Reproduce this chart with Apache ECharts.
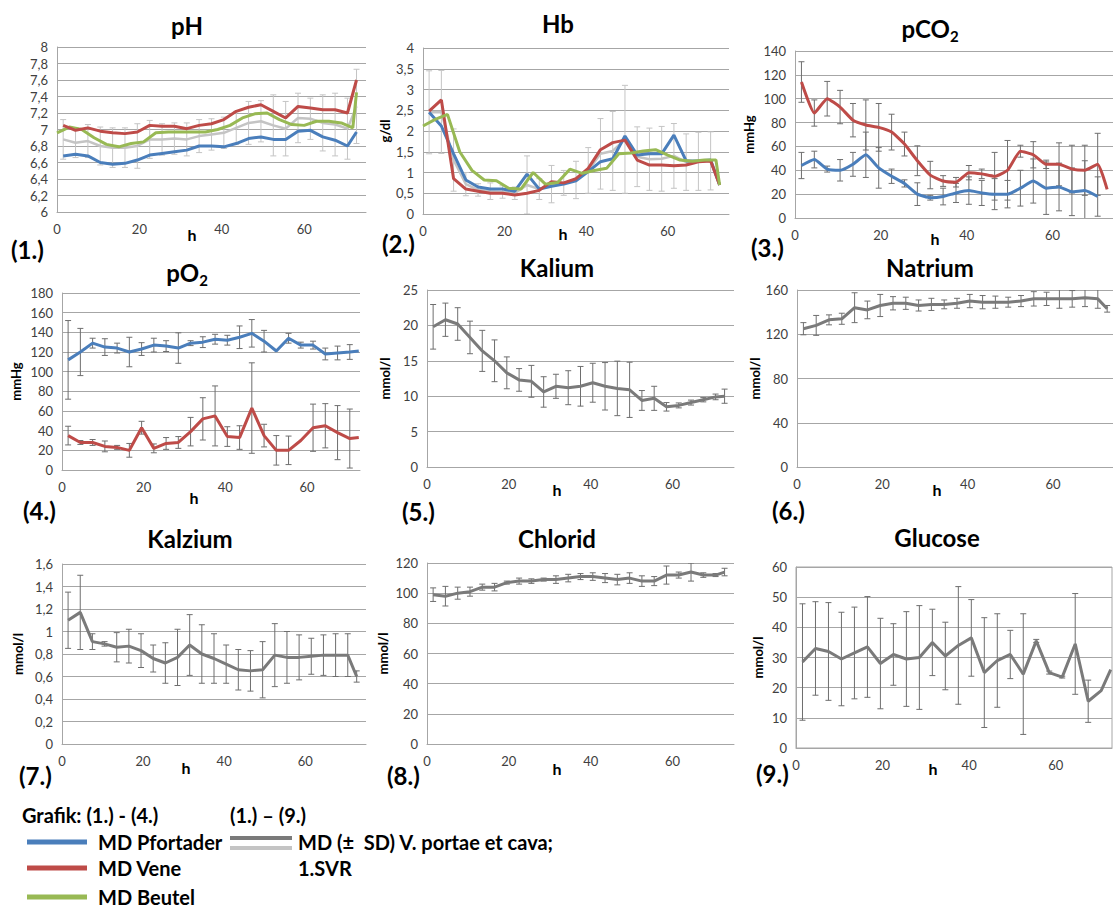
<!DOCTYPE html>
<html>
<head>
<meta charset="utf-8">
<script src="https://cdn.jsdelivr.net/npm/echarts@6/dist/echarts.min.js"></script>
<style>
  html, body { margin: 0; padding: 0; background: #fff; }
  #chart { width: 1113px; height: 909px; }
</style>
</head>
<body>
<div id="chart"></div>
<script>
// Messzeitpunkte (h)
const hours = [1.5, 4.5, 7.5, 10.5, 13.5, 16.5, 19.5, 22.5, 25.5, 28.5, 31.5, 34.5, 37.5, 40.5, 43.5, 46.5, 49.5, 52.5, 55.5, 58.5, 61.5, 64.5, 67.5, 70.5, 72.7];
const beutelHours = [0, 3, 6, 9, 12, 15, 18, 21, 24, 27, 30, 33, 36, 39, 42, 45, 48, 51, 54, 57, 60, 63, 66, 69, 71.8, 72.7];
const xTicks = [0, 20, 40, 60];

// (1.) pH
const phPfortader = [6.68, 6.70, 6.68, 6.60, 6.58, 6.59, 6.63, 6.69, 6.71, 6.73, 6.75, 6.80, 6.80, 6.79, 6.83, 6.89, 6.91, 6.88, 6.88, 6.98, 6.99, 6.91, 6.87, 6.80, 6.97];
const phVene = [7.05, 6.99, 7.02, 6.98, 6.96, 6.95, 6.97, 7.05, 7.04, 7.04, 7.01, 7.05, 7.07, 7.12, 7.22, 7.27, 7.30, 7.22, 7.14, 7.28, 7.26, 7.24, 7.24, 7.20, 7.60];
const phBeutel = [6.96, 7.03, 7.00, 6.90, 6.82, 6.79, 6.83, 6.85, 6.96, 6.97, 6.97, 6.97, 6.97, 7.00, 7.05, 7.14, 7.19, 7.20, 7.12, 7.06, 7.05, 7.10, 7.10, 7.08, 7.02, 7.45];
const phMean = [6.88, 6.84, 6.86, 6.80, 6.78, 6.78, 6.80, 6.88, 6.88, 6.89, 6.88, 6.92, 6.94, 6.96, 7.02, 7.08, 7.10, 7.05, 7.01, 7.14, 7.13, 7.08, 7.06, 7.01, 7.28];
const phSd = [0.24, 0.18, 0.2, 0.23, 0.24, 0.24, 0.27, 0.23, 0.19, 0.19, 0.2, 0.2, 0.19, 0.19, 0.2, 0.26, 0.25, 0.37, 0.33, 0.3, 0.25, 0.34, 0.38, 0.37, 0.45];

// (2.) Hb
const hbPfortader = [2.45, 2.12, 1.45, 0.82, 0.65, 0.60, 0.60, 0.55, 0.96, 0.60, 0.67, 0.72, 0.80, 1.02, 1.26, 1.33, 1.88, 1.42, 1.45, 1.45, 1.90, 1.28, 1.28, 1.30, 0.70];
const hbVene = [2.48, 2.75, 0.85, 0.60, 0.55, 0.50, 0.50, 0.46, 0.50, 0.57, 0.78, 0.75, 0.85, 1.10, 1.55, 1.72, 1.78, 1.30, 1.18, 1.18, 1.16, 1.18, 1.26, 1.28, 0.70];
const hbBeutel = [2.12, 2.28, 2.40, 1.50, 1.05, 0.82, 0.80, 0.62, 0.60, 1.00, 0.72, 0.76, 1.08, 0.98, 1.05, 1.10, 1.45, 1.47, 1.52, 1.55, 1.42, 1.30, 1.27, 1.30, 1.30, 0.70];
const hbMean = [2.45, 2.46, 1.30, 0.72, 0.58, 0.55, 0.53, 0.50, 0.70, 0.60, 0.72, 0.75, 0.82, 1.05, 1.45, 1.52, 1.80, 1.38, 1.32, 1.33, 1.40, 1.25, 1.27, 1.28, 0.70];
const hbSd = [1.0, 1.0, 0.75, 0.28, 0.15, 0.2, 0.15, 0.15, 0.7, 0.25, 0.45, 0.3, 0.45, 0.55, 0.85, 0.95, 1.3, 0.72, 0.75, 0.78, 0.78, 0.68, 0.7, 0.7, null];

// (3.) pCO2
const pco2Pfortader = [44, 49, 41, 40, 45, 53, 42, 35, 29, 20, 17, 18, 21, 23, 21, 20, 20, 25, 31, 25, 26, 22, 23, 18, null];
const pco2PfortaderSd = [11, 7, 2.5, 9, 10, 19, 17, 6, 3, 9.5, 2, 7, 8, 11.5, 10.5, 13, 11.5, 15, 18.5, 22, 20, 20, 25, 16.5, null];
const pco2Vene = [114, 88, 100, 93, 82, 78, 76, 72, 62, 48, 36, 31, 30, 38, 37, 35, 40, 56, 53, 45, 45, 41, 40, 45, 24];
const pco2VeneSd = [17, 11, 14.5, 14, 14, 21, 20, 15, 10, 12.5, 11.5, 4.5, 4, 6, 4, 20, 25, 5, 11, 3.5, 18, 20, 21, 26, null];

// (4.) pO2
const po2Pfortader = [112, 120, 129, 125, 124, 120, 123, 127, 126, 124, 129, 130, 133, 132, 135, 139, 131, 121, 134, 127, 127, 118, 119, 120, 121];
const po2PfortaderSd = [40, 24, 5, 8.5, 5, 15, 6.5, 7, 5.5, 15.5, 2.5, 5.5, 5, 5, 11.5, 14, 11, null, 5, 3, 4, 6, 7, 7.5, null];
const po2Vene = [35, 28, 28, 24, 23, 20, 43, 22, 27, 28, 39, 52, 55, 34, 33, 63, 35, 20, 20, 30, 43, 45, 38, 32, 33];
const po2VeneSd = [9.5, 2, 3, 5.5, 2, 7, 6.5, 4.5, 6, 6, 14.5, 21.5, 30.5, 10, 12, 46, 11.5, 15, 14.5, null, 24, 22.5, 27.5, 30, null];

// (5.) - (9.) MD (± SD) V. portae et cava
const kaliumMean = [19.8, 20.8, 20.2, 18.3, 16.4, 15.0, 13.3, 12.3, 12.1, 10.6, 11.4, 11.2, 11.4, 11.9, 11.4, 11.1, 10.9, 9.4, 9.7, 8.5, 8.7, 9.1, 9.5, 9.9, 10.0];
const kaliumSd = [3.15, 2.35, 2.3, 2.3, 2.9, 2.95, 2.25, 1.6, 2.25, 2.15, 1.7, 2.4, 2.8, 2.75, 3.35, 3.85, 3.9, 1.4, 1.7, 0.6, 0.35, 0.35, 0.3, 0.4, 1.0];
const natriumMean = [125, 128, 133, 134, 144, 142, 146, 148, 148, 146, 147, 147, 148, 150, 149, 149, 149, 150, 152, 152, 152, 152, 153, 152, 143];
const natriumSd = [5.5, 9, 4.5, 5, 13.5, 8, 10, 6, 5.5, 5, 5.5, 4, 4.5, 6, 6, 5.5, 4.5, 5, 6.5, 6, 8.5, 7.5, 8, 8.5, 3];
const kalziumMean = [1.10, 1.17, 0.91, 0.89, 0.86, 0.87, 0.83, 0.76, 0.72, 0.77, 0.88, 0.80, 0.76, 0.71, 0.66, 0.65, 0.66, 0.79, 0.77, 0.77, 0.78, 0.79, 0.79, 0.79, 0.60];
const kalziumSd = [0.25, 0.33, 0.07, 0.02, 0.13, 0.15, 0.15, 0.12, 0.18, 0.25, 0.27, 0.26, 0.22, 0.17, 0.18, 0.18, 0.25, 0.28, 0.23, 0.2, 0.16, 0.18, 0.19, 0.19, 0.05];
const chloridMean = [99, 98, 100, 101, 104, 104, 107, 108, 108, 109, 109, 110, 111, 111, 110, 109, 110, 108, 108, 112, 112, 114, 112, 112, 114];
const chloridSd = [4.5, 6.5, 4, 3, 2, 2.5, 1, 2, 1.5, 1, 2.5, 2.5, 2, 2.5, 3, 3.5, 3.5, 3.5, 3, 6, 2, 6, 1.5, 1, 2.5];
const glucoseMean = [28.5, 33, 32, 29.5, 31.5, 33.5, 28, 31, 29.5, 30, 35, 30.5, 34, 36.5, 25, 29, 31, 24.5, 35.5, 25, 23.5, 34.5, 15.5, 19, 26];
const glucoseSd = [19.3, 15.5, 16.2, 15.5, 15.2, 16.7, 15, 10.2, 15.7, 17.2, 11, 11.2, 19.5, 12.7, 18.2, 15.5, 8, 20, 0.5, 0.5, 0.3, 16.7, 7, null, null];

const blue = '#4a7ebb', red = '#be4b48', green = '#98b954';
const darkGray = '#7a7a7a', lightGray = '#c4c4c4', gridGray = '#a6a6a6', barGray = '#6e6e6e';
const font = 'Lato, "Open Sans", sans-serif';

// Panel-Layout
const panels = [
  { title: 'pH', left: 57, top: 47, width: 309, height: 165, xMax: 75, yMin: 6, yMax: 8, yStep: 0.2, yName: '', gap: 0, tx: 187, ty: 25, num: '(1.)', nx: 11, ny: 249, hx: 192, hy: 234 },
  { title: 'Hb', left: 423, top: 48, width: 306, height: 166, xMax: 75, yMin: 0, yMax: 4, yStep: 0.5, yName: 'g/dl', gap: 32, tx: 558, ty: 23, num: '(2.)', nx: 382, ny: 243, hx: 563, hy: 233 },
  { title: 'pCO', sub: '2', left: 795, top: 51, width: 322, height: 167, xMax: 75, yMin: 0, yMax: 140, yStep: 20, yName: 'mmHg', gap: 40, tx: 930, ty: 28, num: '(3.)', nx: 751, ny: 247, hx: 935, hy: 238 },
  { title: 'pO', sub: '2', left: 62, top: 293, width: 298, height: 177, xMax: 73, yMin: 0, yMax: 180, yStep: 20, yName: 'mmHg', gap: 40, tx: 187, ty: 272, num: '(4.)', nx: 23, ny: 510, hx: 194, hy: 497 },
  { title: 'Kalium', left: 427, top: 290, width: 307, height: 177, xMax: 75, yMin: 0, yMax: 25, yStep: 5, yName: 'mmol/l', gap: 36, tx: 557, ty: 267, num: '(5.)', nx: 402, ny: 511, hx: 557, hy: 489 },
  { title: 'Natrium', left: 797, top: 290, width: 320, height: 177, xMax: 75, yMin: 0, yMax: 160, yStep: 40, yName: 'mmol/l', gap: 36, tx: 930, ty: 267, num: '(6.)', nx: 772, ny: 510, hx: 937, hy: 489 },
  { title: 'Kalzium', left: 62, top: 564, width: 304, height: 180, xMax: 75, yMin: 0, yMax: 1.6, yStep: 0.2, yName: 'mmol/l', gap: 38, tx: 190, ty: 538, num: '(7.)', nx: 19, ny: 775, hx: 186, hy: 767 },
  { title: 'Chlorid', left: 427, top: 563, width: 307, height: 181, xMax: 75, yMin: 0, yMax: 120, yStep: 20, yName: 'mmol/l', gap: 38, tx: 557, ty: 538, num: '(8.)', nx: 387, ny: 775, hx: 557, hy: 768 },
  { title: 'Glucose', left: 796, top: 567, width: 316, height: 181, xMax: 73, yMin: 0, yMax: 60, yStep: 10, yName: 'mmol/l', gap: 32, tx: 937, ty: 537, num: '(9.)', nx: 756, ny: 773, hx: 933, hy: 768, box: true }
];

function points(xs, ys) {
  const out = [];
  ys.forEach((y, i) => { if (y != null) out.push([xs[i], y]); });
  return out;
}
function barPoints(xs, ys, sds) {
  const out = [];
  ys.forEach((y, i) => { if (y != null && sds[i] != null) out.push([xs[i], y, sds[i]]); });
  return out;
}

function lineSeries(i, name, data, color, width, smooth) {
  return {
    type: 'line', name: name, xAxisIndex: i, yAxisIndex: i, data: data,
    symbol: 'none', smooth: smooth || false, silent: true,
    lineStyle: { color: color, width: width }, itemStyle: { color: color }
  };
}

// Fehlerbalken (± SD) als custom series
function errorSeries(i, data, color) {
  return {
    type: 'custom', xAxisIndex: i, yAxisIndex: i, data: data, clip: true, silent: true,
    encode: { x: 0, y: 1 }, itemStyle: { color: color },
    renderItem: function (params, api) {
      const x = api.value(0), m = api.value(1), sd = api.value(2);
      const hi = api.coord([x, m + sd]);
      const lo = api.coord([x, m - sd]);
      const st = { stroke: color, lineWidth: 1 };
      const w = 3;
      return {
        type: 'group', children: [
          { type: 'line', shape: { x1: hi[0], y1: hi[1], x2: lo[0], y2: lo[1] }, style: st },
          { type: 'line', shape: { x1: hi[0] - w, y1: hi[1], x2: hi[0] + w, y2: hi[1] }, style: st },
          { type: 'line', shape: { x1: lo[0] - w, y1: lo[1], x2: lo[0] + w, y2: lo[1] }, style: st }
        ]
      };
    }
  };
}

const series = [
  // (1.) pH
  errorSeries(0, barPoints(hours, phMean, phSd), lightGray),
  lineSeries(0, 'MD V. portae et cava', points(hours, phMean), lightGray, 2.5),
  lineSeries(0, 'MD Pfortader', points(hours, phPfortader), blue, 3),
  lineSeries(0, 'MD Beutel', points(beutelHours, phBeutel), green, 3),
  lineSeries(0, 'MD Vene', points(hours, phVene), red, 3),
  // (2.) Hb
  errorSeries(1, barPoints(hours, hbMean, hbSd), lightGray),
  lineSeries(1, 'MD V. portae et cava', points(hours, hbMean), lightGray, 2.5),
  lineSeries(1, 'MD Pfortader', points(hours, hbPfortader), blue, 3),
  lineSeries(1, 'MD Vene', points(hours, hbVene), red, 3),
  lineSeries(1, 'MD Beutel', points(beutelHours, hbBeutel), green, 3),
  // (3.) pCO2
  lineSeries(2, 'MD Vene', points(hours, pco2Vene), red, 3, 0.15),
  lineSeries(2, 'MD Pfortader', points(hours, pco2Pfortader), blue, 3, 0.15),
  errorSeries(2, barPoints(hours, pco2Vene, pco2VeneSd), barGray),
  errorSeries(2, barPoints(hours, pco2Pfortader, pco2PfortaderSd), barGray),
  // (4.) pO2
  lineSeries(3, 'MD Pfortader', points(hours, po2Pfortader), blue, 3),
  lineSeries(3, 'MD Vene', points(hours, po2Vene), red, 3),
  errorSeries(3, barPoints(hours, po2Pfortader, po2PfortaderSd), barGray),
  errorSeries(3, barPoints(hours, po2Vene, po2VeneSd), barGray),
  // (5.) - (9.)
  lineSeries(4, 'MD V. portae et cava', points(hours, kaliumMean), darkGray, 3),
  errorSeries(4, barPoints(hours, kaliumMean, kaliumSd), barGray),
  lineSeries(5, 'MD V. portae et cava', points(hours, natriumMean), darkGray, 3),
  errorSeries(5, barPoints(hours, natriumMean, natriumSd), barGray),
  lineSeries(6, 'MD V. portae et cava', points(hours, kalziumMean), darkGray, 3),
  errorSeries(6, barPoints(hours, kalziumMean, kalziumSd), barGray),
  lineSeries(7, 'MD V. portae et cava', points(hours, chloridMean), darkGray, 3),
  errorSeries(7, barPoints(hours, chloridMean, chloridSd), barGray),
  lineSeries(8, 'MD V. portae et cava', points(hours, glucoseMean), darkGray, 3),
  errorSeries(8, barPoints(hours, glucoseMean, glucoseSd), barGray)
];

const grids = panels.map(p => ({
  left: p.left, top: p.top, width: p.width, height: p.height,
  outerBoundsMode: 'none', containLabel: false,
  show: !!p.box, borderColor: gridGray, borderWidth: 1
}));

const xAxes = panels.map((p, i) => ({
  type: 'value', gridIndex: i, min: 0, max: p.xMax, interval: 20,
  axisLine: { show: true, lineStyle: { color: gridGray, width: 1 } },
  axisTick: { show: false }, splitLine: { show: false },
  axisLabel: {
    color: '#404040', fontSize: 13, fontFamily: font, margin: 10,
    formatter: v => (xTicks.indexOf(v) >= 0 ? String(v) : '')
  }
}));

const yAxes = panels.map((p, i) => ({
  type: 'value', gridIndex: i, min: p.yMin, max: p.yMax, interval: p.yStep,
  name: p.yName, nameLocation: 'middle', nameRotate: 90, nameGap: p.gap,
  nameTextStyle: { fontFamily: font, fontWeight: 'bold', fontSize: 13, color: '#000' },
  axisLine: { show: true, lineStyle: { color: gridGray, width: 1 } },
  axisTick: { show: false },
  splitLine: { show: true, lineStyle: { color: gridGray, width: 1 } },
  axisLabel: {
    color: '#404040', fontSize: 13, fontFamily: font, margin: 9,
    formatter: v => String(+v.toFixed(1)).replace('.', ',')
  }
}));

// Texte: Titel, Nummern, "h"
const graphics = [];
panels.forEach(p => {
  const titleText = p.sub ? '{m|' + p.title + '}{s|' + p.sub + '}' : '{m|' + p.title + '}';
  graphics.push({
    type: 'text', x: p.tx, y: p.ty, silent: true,
    style: {
      text: titleText, align: 'center', verticalAlign: 'middle',
      rich: {
        m: { fontFamily: font, fontWeight: 'bold', fontSize: 24, lineHeight: 30, fill: '#000' },
        s: { fontFamily: font, fontWeight: 'bold', fontSize: 15, lineHeight: 15, verticalAlign: 'bottom', fill: '#000' }
      }
    }
  });
  graphics.push({
    type: 'text', x: p.nx, y: p.ny, silent: true,
    style: { text: p.num, fontFamily: font, fontWeight: 'bold', fontSize: 24, fill: '#000', align: 'left', verticalAlign: 'middle' }
  });
  graphics.push({
    type: 'text', x: p.hx, y: p.hy, silent: true,
    style: { text: 'h', fontFamily: font, fontWeight: 'bold', fontSize: 16, fill: '#000', align: 'center', verticalAlign: 'middle' }
  });
});

// Legende unten
const legendFont = { fontFamily: font, fontWeight: 'bold', fontSize: 20, fill: '#000', align: 'left', verticalAlign: 'middle' };
function legendText(x, y, text) {
  graphics.push({ type: 'text', x: x, y: y, silent: true, style: Object.assign({ text: text }, legendFont) });
}
function legendKey(x, y, w, h, color) {
  graphics.push({ type: 'rect', silent: true, shape: { x: x, y: y - h / 2, width: w, height: h }, style: { fill: color } });
}
legendText(22, 815, 'Grafik: (1.) - (4.)');
legendText(230, 815, '(1.) – (9.)');
legendKey(27, 842, 60, 5, blue);
legendKey(27, 868, 60, 5, red);
legendKey(27, 897, 60, 5, green);
legendText(98, 842, 'MD Pfortader');
legendText(98, 868, 'MD Vene');
legendText(98, 897, 'MD Beutel');
legendKey(230, 838, 62, 4, darkGray);
legendKey(230, 848, 62, 4, lightGray);
legendText(298, 842, 'MD (±  SD) V. portae et cava;');
legendText(298, 868, '1.SVR');

const chart = echarts.init(document.getElementById('chart'), null, { renderer: 'svg' });
chart.setOption({
  animation: false,
  backgroundColor: '#fff',
  textStyle: { fontFamily: font },
  grid: grids,
  xAxis: xAxes,
  yAxis: yAxes,
  series: series,
  graphic: graphics
});
</script>
</body>
</html>
